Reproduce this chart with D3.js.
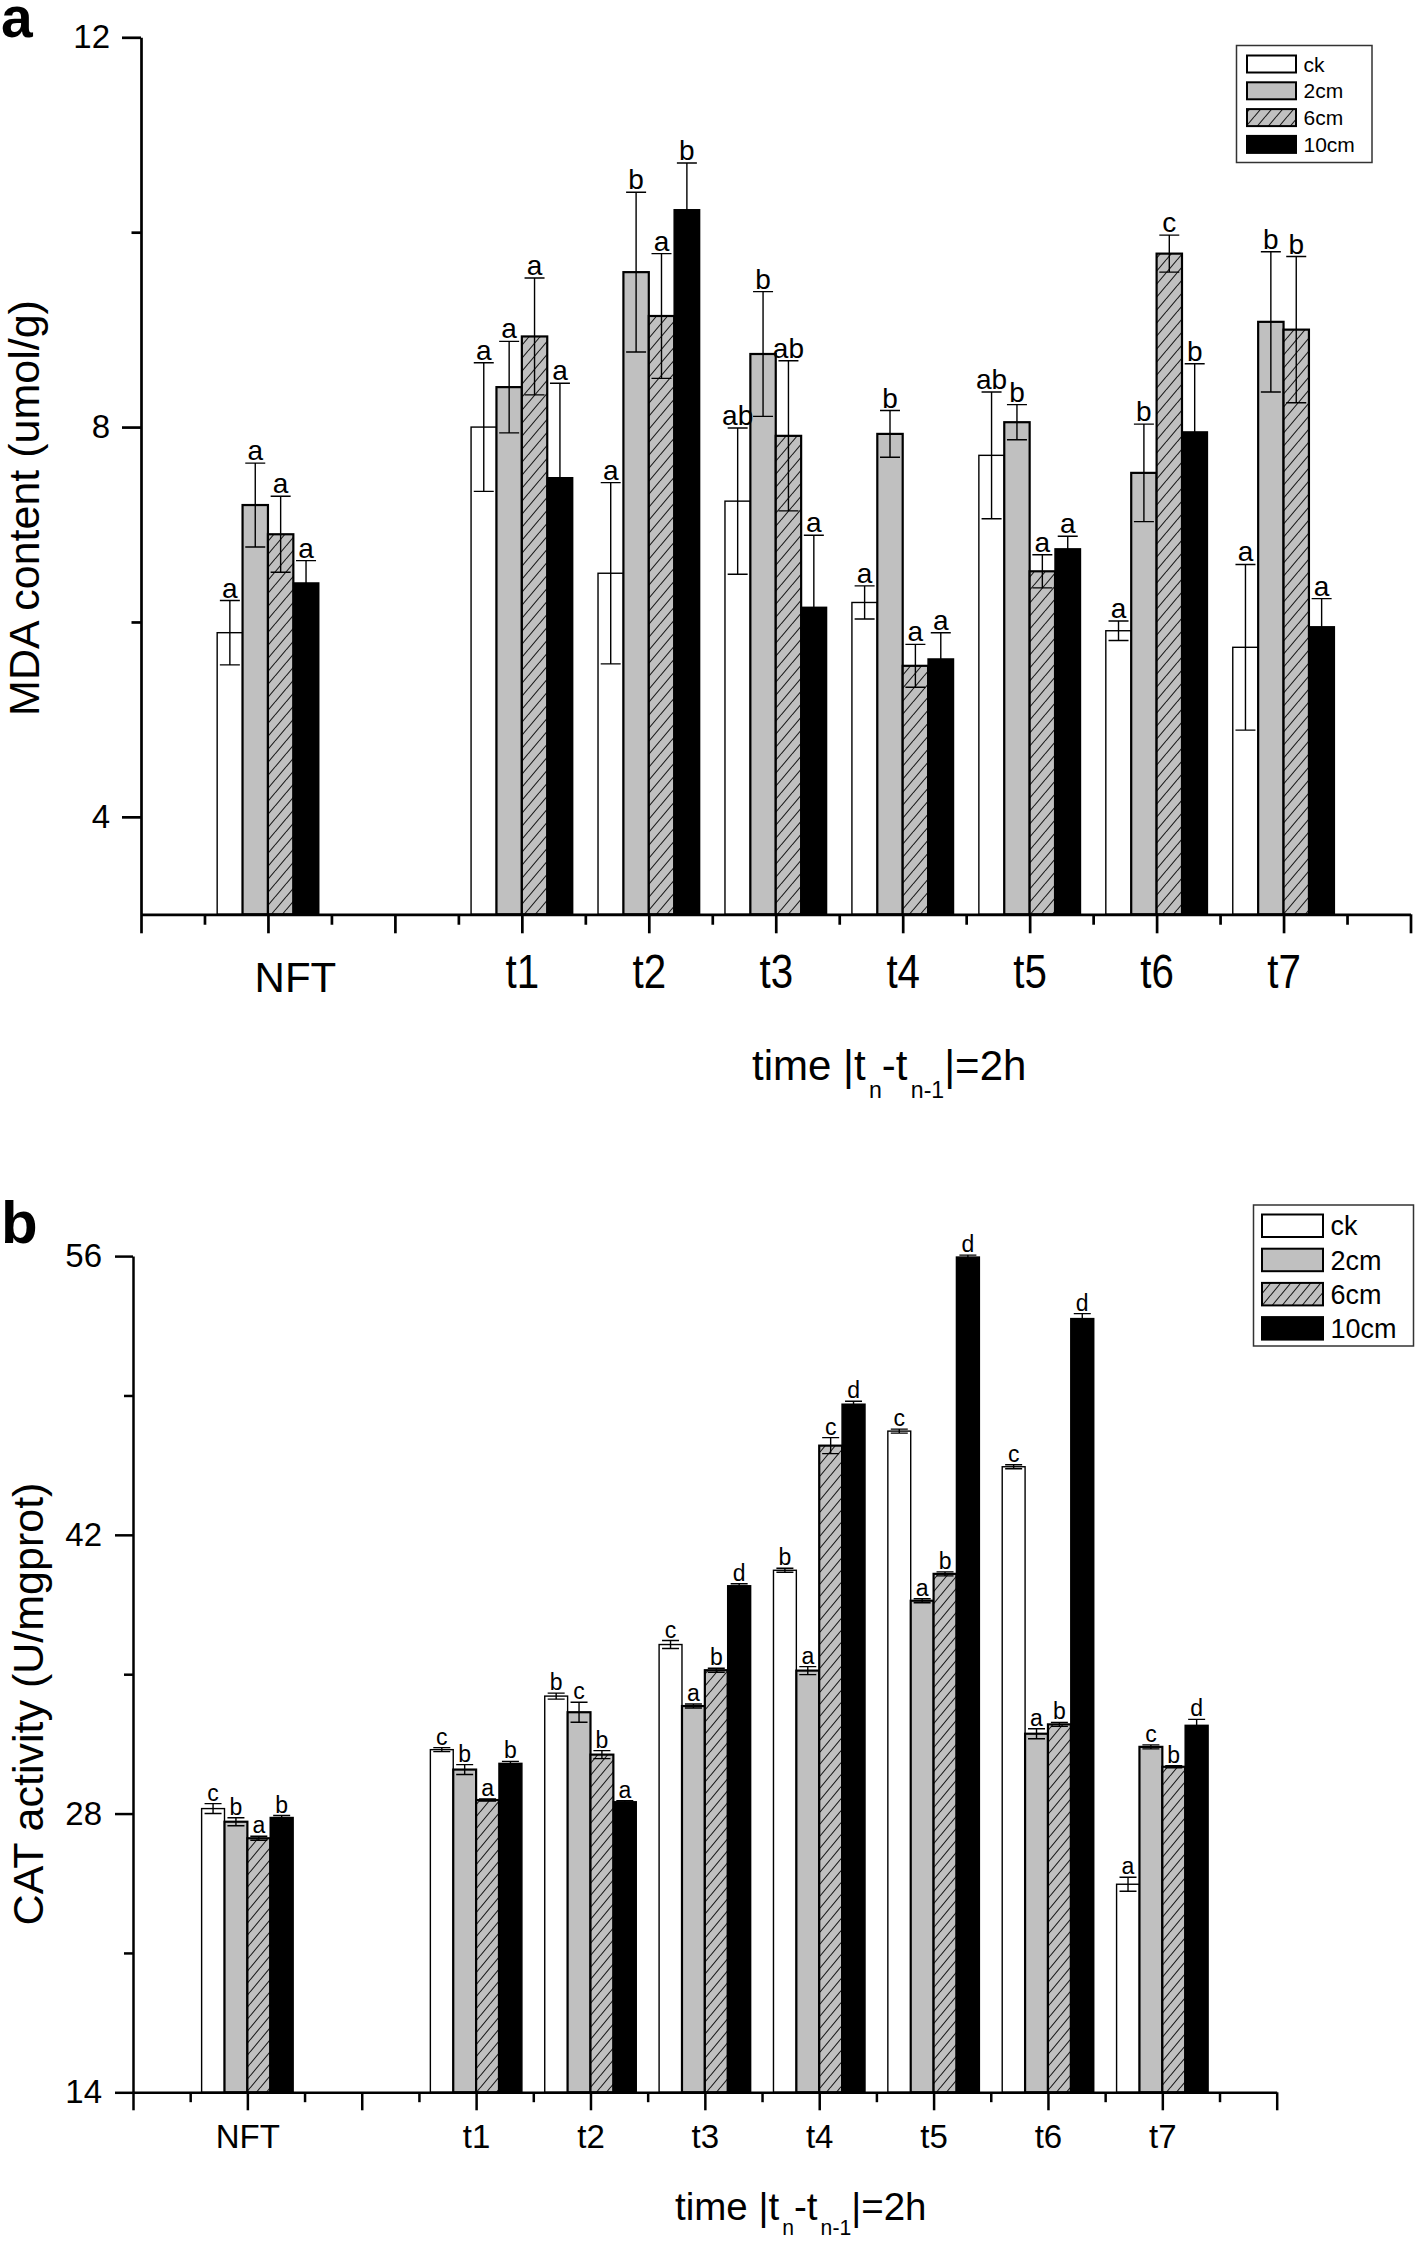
<!DOCTYPE html>
<html><head><meta charset="utf-8">
<script src="https://cdn.jsdelivr.net/npm/d3@7"></script>
<style>
body{margin:0;background:#fff}
svg{display:block}
text{font-family:"Liberation Sans",Arial,Helvetica,sans-serif;fill:#000}
</style>
</head><body>
<svg id="chart" width="1416" height="2245"></svg>
<script>
// ---------------- DATA ----------------
const categories   = ["NFT","t1","t2","t3","t4","t5","t6","t7"];
const categoryX    = [1, 3, 4, 5, 6, 7, 8, 9];          // position on the numeric x axis
const seriesNames  = ["ck","2cm","6cm","10cm"];

// Panel a: MDA content (umol/g)
const mdaCk    = [5.89, 8.00, 6.50, 7.24, 6.20, 7.71, 5.91, 5.74];
const mdaCkErr = [0.33, 0.66, 0.93, 0.75, 0.17, 0.65, 0.10, 0.85];
const mdaCkSig = ["a","a","a","ab","a","ab","a","a"];
const mda2     = [7.20, 8.41, 9.59, 8.75, 7.93, 8.05, 7.53, 9.08];
const mda2Err  = [0.43, 0.47, 0.82, 0.64, 0.24, 0.18, 0.50, 0.72];
const mda2Sig  = ["a","a","b","b","b","b","b","b"];
const mda6     = [6.90, 8.93, 9.14, 7.91, 5.55, 6.52, 9.78, 9.00];
const mda6Err  = [0.39, 0.60, 0.64, 0.77, 0.22, 0.17, 0.19, 0.75];
const mda6Sig  = ["a","a","a","ab","a","a","c","b"];
const mda10    = [6.40, 7.48, 10.23, 6.15, 5.62, 6.75, 7.95, 5.95];
const mda10Err = [0.23, 0.97, 0.48, 0.74, 0.27, 0.13, 0.70, 0.29];
const mda10Sig = ["a","a","b","a","a","a","b","a"];
const mdaTicks      = [4, 8, 12];
const mdaMinorTicks = [6, 10];

// Panel b: CAT activity (U/mgprot)
const catCk    = [28.25, 31.21, 33.90, 36.49, 40.22, 47.21, 45.42, 24.45];
const catCkErr = [0.25, 0.10, 0.15, 0.20, 0.10, 0.10, 0.10, 0.35];
const catCkSig = ["c","c","b","c","b","c","c","a"];
const cat2     = [27.59, 30.21, 33.09, 33.40, 35.18, 38.69, 32.01, 31.35];
const cat2Err  = [0.20, 0.25, 0.50, 0.10, 0.20, 0.10, 0.25, 0.10];
const cat2Sig  = ["b","b","c","a","a","a","a","c"];
const cat6     = [26.76, 28.68, 30.96, 35.20, 46.48, 40.04, 32.48, 30.35];
const cat6Err  = [0.10, 0.05, 0.20, 0.10, 0.40, 0.10, 0.10, 0.05];
const cat6Sig  = ["a","a","b","b","c","b","b","b"];
const cat10    = [27.80, 30.52, 28.59, 39.44, 48.56, 55.95, 52.86, 32.43];
const cat10Err = [0.10, 0.10, 0.05, 0.10, 0.15, 0.10, 0.25, 0.30];
const cat10Sig = ["b","b","a","d","d","d","d","d"];
const catTicks      = [14, 28, 42, 56];
const catMinorTicks = [21, 35, 49];

// ---------------- DRAWING ----------------
const svg = d3.select("#chart");
svg.append("rect").attr("width",1416).attr("height",2245).attr("fill","#fff");
const defs = svg.append("defs");

function makeHatch(id, w, h, sw){
  const p = defs.append("pattern").attr("id", id)
    .attr("patternUnits","userSpaceOnUse").attr("width", w).attr("height", h);
  p.append("rect").attr("width", w).attr("height", h).attr("fill", "#c0c0c0");
  p.append("path")
    .attr("d", `M0,${h}L${w},0M${-w},${h}L0,0M${w},${h}L${2*w},0M0,${2*h}L${w},${h}`)
    .attr("stroke","#1a1a1a").attr("stroke-width", sw).attr("fill","none");
}
makeHatch("hatchA", 11, 13, 1.1);
makeHatch("hatchB", 10, 12, 1.1);

function buildSeries(vals, errs, sigs){
  return vals.map((v,i)=>({cat:categories[i], x:categoryX[i], v, e:errs[i], s:sigs[i]}));
}

function drawPanel(cfg){
  const g = svg.append("g");
  const xs = d3.scaleLinear().domain([0,10]).range([cfg.left, cfg.right]);
  const ys = d3.scaleLinear().domain(cfg.yDomain).range([cfg.bottom, cfg.top]);
  const bw = xs(0.2) - xs(0);
  const fills = ["#ffffff", "#c0c0c0", `url(#${cfg.hatch})`, "#000000"];
  const strokeW = [1.4, 2.2, 2.2, 1.5];

  cfg.series.forEach((ser, si) => {
    const sg = g.append("g");
    const cx = d => xs(d.x + (si - 1.5) * 0.2);
    sg.selectAll("rect").data(ser).join("rect")
      .attr("x", d => cx(d) - bw/2)
      .attr("y", d => ys(d.v))
      .attr("width", bw)
      .attr("height", d => ys(cfg.yDomain[0]) - ys(d.v))
      .attr("fill", fills[si])
      .attr("stroke", "#000")
      .attr("stroke-width", strokeW[si]);
  });
  cfg.series.forEach((ser, si) => {
    const eg = g.append("g").attr("stroke","#000").attr("stroke-width",1.4).attr("fill","none");
    const cx = d => xs(d.x + (si - 1.5) * 0.2);
    eg.selectAll("path").data(ser).join("path")
      .attr("d", d => {
        const x = cx(d), y1 = ys(d.v + d.e), y0 = ys(d.v - d.e), c = cfg.cap/2;
        return `M${x},${y0}L${x},${y1}M${x-c},${y1}L${x+c},${y1}M${x-c},${y0}L${x+c},${y0}`;
      });
    g.append("g").selectAll("text").data(ser).join("text")
      .attr("x", d => cx(d))
      .attr("y", d => ys(d.v + d.e) - cfg.sigGap)
      .attr("text-anchor","middle")
      .attr("font-size", cfg.sigFont)
      .text(d => d.s);
  });

  // y axis
  const yAxis = d3.axisLeft(ys).tickValues(cfg.yTicks).tickSize(cfg.tickLen).tickSizeOuter(0)
    .tickPadding(cfg.yPad).tickFormat(d3.format("d"));
  const ya = g.append("g").attr("transform",`translate(${cfg.left},0)`).call(yAxis);
  const yMinor = d3.axisLeft(ys).tickValues(cfg.yMinor).tickSize(cfg.tickLen*0.5).tickSizeOuter(0).tickFormat("");
  const ym = g.append("g").attr("transform",`translate(${cfg.left},0)`).call(yMinor);
  ym.select(".domain").remove();
  [ya, ym].forEach(a => {
    a.selectAll("path,line").attr("stroke","#000").attr("stroke-width",cfg.axisW);
  });
  ya.selectAll("text").attr("font-size", cfg.yTickFont).attr("font-family",null);

  // x axis
  const labelAt = new Map(categoryX.map((p,i)=>[p, categories[i]]));
  const xAxis = d3.axisBottom(xs).tickValues(d3.range(0,11)).tickSize(cfg.xTickLen).tickSizeOuter(0)
    .tickPadding(cfg.xPad).tickFormat(d => labelAt.get(d) || "");
  const xa = g.append("g").attr("transform",`translate(0,${cfg.bottom})`).call(xAxis);
  const xMinor = d3.axisBottom(xs).tickValues(d3.range(0.5,10,1)).tickSize(cfg.xTickLen*0.55).tickSizeOuter(0).tickFormat("");
  const xm = g.append("g").attr("transform",`translate(0,${cfg.bottom})`).call(xMinor);
  xm.select(".domain").remove();
  [xa, xm].forEach(a => {
    a.selectAll("path,line").attr("stroke","#000").attr("stroke-width",cfg.axisW);
  });
  xa.selectAll("text").attr("font-size", cfg.xTickFont).attr("font-family",null);
  if (cfg.styleXLabels) cfg.styleXLabels(xa.selectAll(".tick text"), labelAt);

  // y title
  g.append("text")
    .attr("transform",`translate(${cfg.yTitleX},${cfg.yTitleY}) rotate(-90)`)
    .attr("text-anchor","middle").attr("font-size",cfg.yTitleFont)
    .text(cfg.yTitle);

  // x title with subscripts
  const xt = g.append("text").attr("x",cfg.xTitleX).attr("y",cfg.xTitleY)
    .attr("font-size",cfg.xTitleFont);
  const sub = cfg.xTitleFont*0.55, dn = cfg.xTitleFont*cfg.subDrop;
  xt.append("tspan").text("time |t");
  xt.append("tspan").attr("font-size",sub).attr("dy",dn).attr("dx",cfg.xTitleFont*0.08).text("n");
  xt.append("tspan").attr("dy",-dn).text("-t");
  xt.append("tspan").attr("font-size",sub).attr("dy",dn).attr("dx",cfg.xTitleFont*0.08).text("n-1");
  xt.append("tspan").attr("dy",-dn).text("|=2h");

  // panel letter
  g.append("text").attr("x",cfg.letterX).attr("y",cfg.letterY)
    .attr("font-size",cfg.letterFont).attr("font-weight","bold").text(cfg.letter);

  // legend
  const lg = g.append("g");
  const L = cfg.legend;
  lg.append("rect").attr("x",L.x).attr("y",L.y).attr("width",L.w).attr("height",L.h)
    .attr("fill","#fff").attr("stroke","#333").attr("stroke-width",1.5);
  seriesNames.forEach((n,i) => {
    const yy = L.y + L.pad + i*L.row;
    lg.append("rect").attr("x",L.x+L.sx).attr("y",yy).attr("width",L.sw).attr("height",L.sh)
      .attr("fill", fills[i]).attr("stroke","#000").attr("stroke-width",2);
    lg.append("text").attr("x",L.x+L.tx).attr("y",yy+L.sh/2).attr("dy","0.36em")
      .attr("font-size",L.font).text(n);
  });
}

drawPanel({
  series: [buildSeries(mdaCk,mdaCkErr,mdaCkSig), buildSeries(mda2,mda2Err,mda2Sig),
           buildSeries(mda6,mda6Err,mda6Sig), buildSeries(mda10,mda10Err,mda10Sig)],
  yDomain:[3,12], yTicks: mdaTicks, yMinor: mdaMinorTicks,
  left:141, right:1410.5, top:37.3, bottom:914.3,
  hatch:"hatchA", cap:20, sigGap:3, sigFont:28,
  tickLen:19, yPad:12, axisW:2.7, yTickFont:33,
  xTickLen:19, xPad:24, xTickFont:41,
  styleXLabels: (sel) => {
    sel.attr("dy", 0).each(function(){
      const t = d3.select(this), s = t.text();
      if (s === "NFT") { t.attr("font-size", 42).attr("y", 78).attr("x", 27); }
      else if (s) { t.attr("font-size", 48).attr("y", 74).attr("transform", "scale(0.84,1)"); }
    });
  },
  yTitle:"MDA content (umol/g)", yTitleX:39, yTitleY:508, yTitleFont:43,
  xTitleX:752, xTitleY:1080, xTitleFont:42, subDrop:0.43,
  letter:"a", letterX:1, letterY:37, letterFont:57,
  legend:{x:1236.5, y:45.5, w:135.5, h:117, pad:10, row:26.8, sx:10.5, sw:49, sh:17, tx:67, font:21}
});

drawPanel({
  series: [buildSeries(catCk,catCkErr,catCkSig), buildSeries(cat2,cat2Err,cat2Sig),
           buildSeries(cat6,cat6Err,cat6Sig), buildSeries(cat10,cat10Err,cat10Sig)],
  yDomain:[14,56], yTicks: catTicks, yMinor: catMinorTicks,
  left:133, right:1276.7, top:1256.1, bottom:2092.3,
  hatch:"hatchB", cap:17, sigGap:3, sigFont:23,
  tickLen:18, yPad:13, axisW:2.5, yTickFont:33,
  xTickLen:18, xPad:14, xTickFont:33,
  yTitle:"CAT activity (U/mgprot)", yTitleX:43, yTitleY:1704, yTitleFont:43,
  xTitleX:675, xTitleY:2220, xTitleFont:38.5, subDrop:0.4,
  letter:"b", letterX:1, letterY:1243, letterFont:60,
  legend:{x:1253.5, y:1205, w:160, h:141, pad:9.5, row:34.2, sx:8.5, sw:61, sh:22.5, tx:77, font:27}
});
</script>
</body></html>
